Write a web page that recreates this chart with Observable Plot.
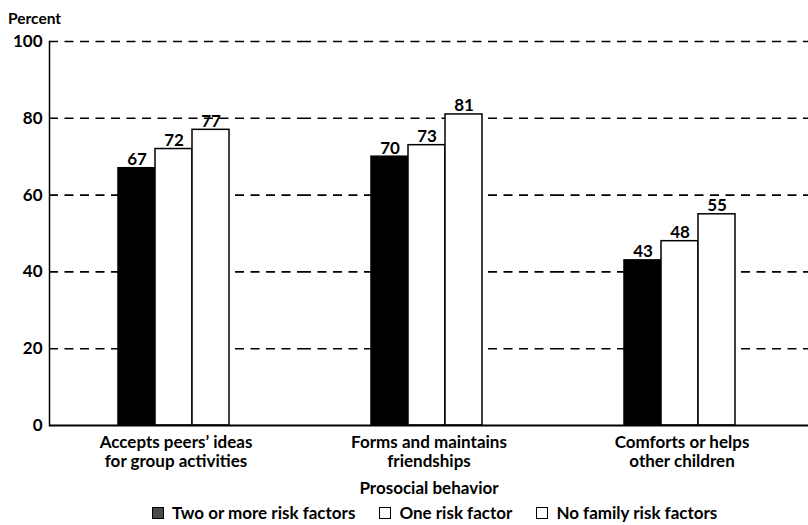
<!DOCTYPE html>
<html><head><meta charset="utf-8">
<script src="https://cdn.jsdelivr.net/npm/d3@7"></script>
<script src="https://cdn.jsdelivr.net/npm/@observablehq/plot@0.6"></script>
<style>
body{margin:0;background:#fff;font-family:Lato, "Open Sans", sans-serif;font-weight:700;color:#000;}
#wrap{width:808px;height:525px;position:relative;overflow:hidden;}
#ytitle{height:28px;font-size:15.5px;line-height:36px;padding-left:8px;}
#chart svg{display:block;}
#legend{height:25px;display:flex;align-items:center;padding-left:152px;font-size:17px;line-height:24px;}
.item{display:flex;align-items:center;margin-right:24px;}
.sw{width:10px;height:10px;border:1px solid #000;margin-right:8px;box-sizing:content-box;}
</style></head><body>
<div id="wrap">
<div id="ytitle">Percent</div>
<div id="chart"></div>
<div id="legend"></div>
</div>
<script>
const categories = ["Accepts peers’ ideas\nfor group activities", "Forms and maintains\nfriendships", "Comforts or helps\nother children"];
const seriesNames = ["Two or more risk factors", "One risk factor", "No family risk factors"];
const twoOrMore = [67, 70, 43];
const oneRisk = [72, 73, 48];
const noRisk = [77, 81, 55];
const yTicks = [0, 20, 40, 60, 80, 100];
const seriesColors = ["#000000", "#ffffff", "#ffffff"];
const legendSwatches = ["#4a4a4a", "#ffffff", "#ffffff"];

const seriesValues = [twoOrMore, oneRisk, noRisk];
const data = [];
categories.forEach((c, i) => {
  seriesNames.forEach((s, j) => {
    data.push({group: c, series: s, value: seriesValues[j][i]});
  });
});

const chart = Plot.plot({
  width: 808,
  height: 472,
  marginTop: 13,
  marginBottom: 75,
  marginLeft: 49,
  marginRight: 0,
  style: {fontFamily: "Lato, sans-serif", fontWeight: 700, color: "#000", background: "#fff"},
  fx: {domain: categories, padding: 0, label: null},
  x: {domain: seriesNames, paddingInner: 0, paddingOuter: 1.85, align: 0.485, axis: null},
  y: {domain: [0, 100], axis: null},
  color: {domain: seriesNames, range: seriesColors},
  marks: [
    Plot.ruleY(yTicks.filter(d => d > 0), {stroke: "#000", strokeWidth: 1.6, strokeDasharray: "9,6.5"}),
    Plot.barY(data, {fx: "group", x: "series", y: "value", fill: "series", stroke: "#000", strokeWidth: 1.5}),
    Plot.text(data, {fx: "group", x: "series", y: "value", text: d => String(d.value), dy: -3, lineAnchor: "bottom", fontSize: 17, fontWeight: 700, fill: "#000"}),
    Plot.ruleY([0], {stroke: "#000", strokeWidth: 2}),
    Plot.frame({anchor: "left", facet: "super", stroke: "#000", strokeWidth: 1.5}),
    Plot.axisY({ticks: yTicks, tickSize: 0, tickPadding: 7, fontSize: 17, fontWeight: 700, label: null}),
    Plot.axisFx({anchor: "bottom", tickSize: 0, tickPadding: 9, fontSize: 17, fontWeight: 700, lineHeight: 1.12, label: "Prosocial behavior", labelAnchor: "center", labelOffset: 68})
  ]
});
document.getElementById("chart").appendChild(chart);

const legend = document.getElementById("legend");
seriesNames.forEach((s, i) => {
  const item = document.createElement("div");
  item.className = "item";
  const sw = document.createElement("span");
  sw.className = "sw";
  sw.style.background = legendSwatches[i];
  const t = document.createElement("span");
  t.textContent = s;
  item.appendChild(sw);
  item.appendChild(t);
  legend.appendChild(item);
});
</script>
</body></html>
